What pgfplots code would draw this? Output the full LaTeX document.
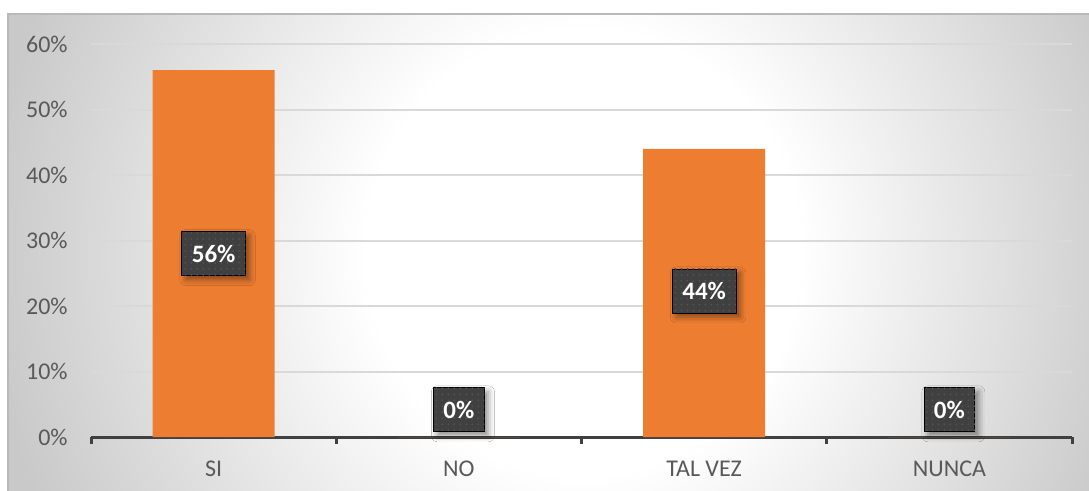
\documentclass[border=0pt]{standalone}
\usepackage{pgfplots}
\pgfplotsset{compat=1.18}
\usepackage{fontspec}
\setmainfont{Carlito}
\usetikzlibrary{shadows.blur,patterns}
\definecolor{barorange}{HTML}{ED7D31}
\definecolor{axisdark}{HTML}{404040}
\definecolor{ticktext}{HTML}{595959}
\definecolor{gridgray}{HTML}{D9D9D9}
\definecolor{boxdark}{HTML}{404040}
\definecolor{boxdot}{HTML}{535353}
\definecolor{bgouter}{HTML}{C9C9C9}
\pgfdeclareradialshading{chartbg}{\pgfpoint{2bp}{0bp}}{color(0bp)=(white); color(10bp)=(white); color(27bp)=(bgouter); color(50bp)=(bgouter)}
\begin{document}
\begin{tikzpicture}[x=1bp,y=1bp]
\useasboundingbox (0,0) rectangle (544.5,245);
\fill[white] (0,0) rectangle (544.5,245);
\begin{scope}
\clip (4,0) rectangle (544.5,238);
\shade[shading=chartbg] (4,-160) rectangle (544.5,398);
\end{scope}
\draw[color=gray!55, line width=0.8bp] (4,-2) -- (4,238) -- (546,238);
\begin{axis}[
  at={(45.5bp,26.5bp)}, anchor=south west,
  scale only axis,
  width=490.5bp, height=196.5bp,
  xmin=-0.5, xmax=3.5, ymin=0, ymax=60,
  axis x line*=bottom, axis y line*=left,
  x axis line style={color=axisdark, line width=1.5bp, -},
  y axis line style={draw=none},
  ytick={0,10,20,30,40,50,60},
  yticklabels={0\%,10\%,20\%,30\%,40\%,50\%,60\%},
  xtick={0,1,2,3},
  xticklabels={SI,NO,TAL VEZ,NUNCA},
  major tick length=0pt,
  ytick style={draw=none},
  xtick style={draw=axisdark, line width=1.5bp},
  tick align=outside,
  extra x ticks={-0.5,0.5,1.5,2.5,3.5},
  extra x tick labels={},
  extra x tick style={major tick length=3.5bp, tick align=outside, grid=none},
  ymajorgrids,
  grid style={color=gridgray, line width=1bp},
  tick label style={font=\fontsize{12bp}{14bp}\selectfont, text=ticktext, inner sep=0pt},
  yticklabel style={anchor=east, xshift=-11.5bp},
  xticklabel style={anchor=base, yshift=-19.5bp},
  clip=false,
]
\addplot[ybar, bar width=61bp, fill=barorange, draw=none, bar shift=0pt]
  coordinates {(0,56) (1,0) (2,44) (3,0)};
\addplot[only marks, mark=none, point meta=explicit symbolic,
  nodes near coords,
  every node near coord/.style={anchor=center, inner sep=0pt, minimum height=22bp, inner xsep=5bp,
    text=white, font=\fontsize{12.5bp}{14bp}\selectfont\bfseries,
    preaction={fill=boxdark, blur shadow={shadow xshift=2bp, shadow yshift=-2bp, shadow blur radius=3bp, shadow opacity=45}},
    pattern=dots, pattern color=boxdot}]
  coordinates {(0,28)[56\%] (1,4.15)[0\%] (2,22.3)[44\%] (3,4.15)[0\%]};
\end{axis}
\end{tikzpicture}
\end{document}
